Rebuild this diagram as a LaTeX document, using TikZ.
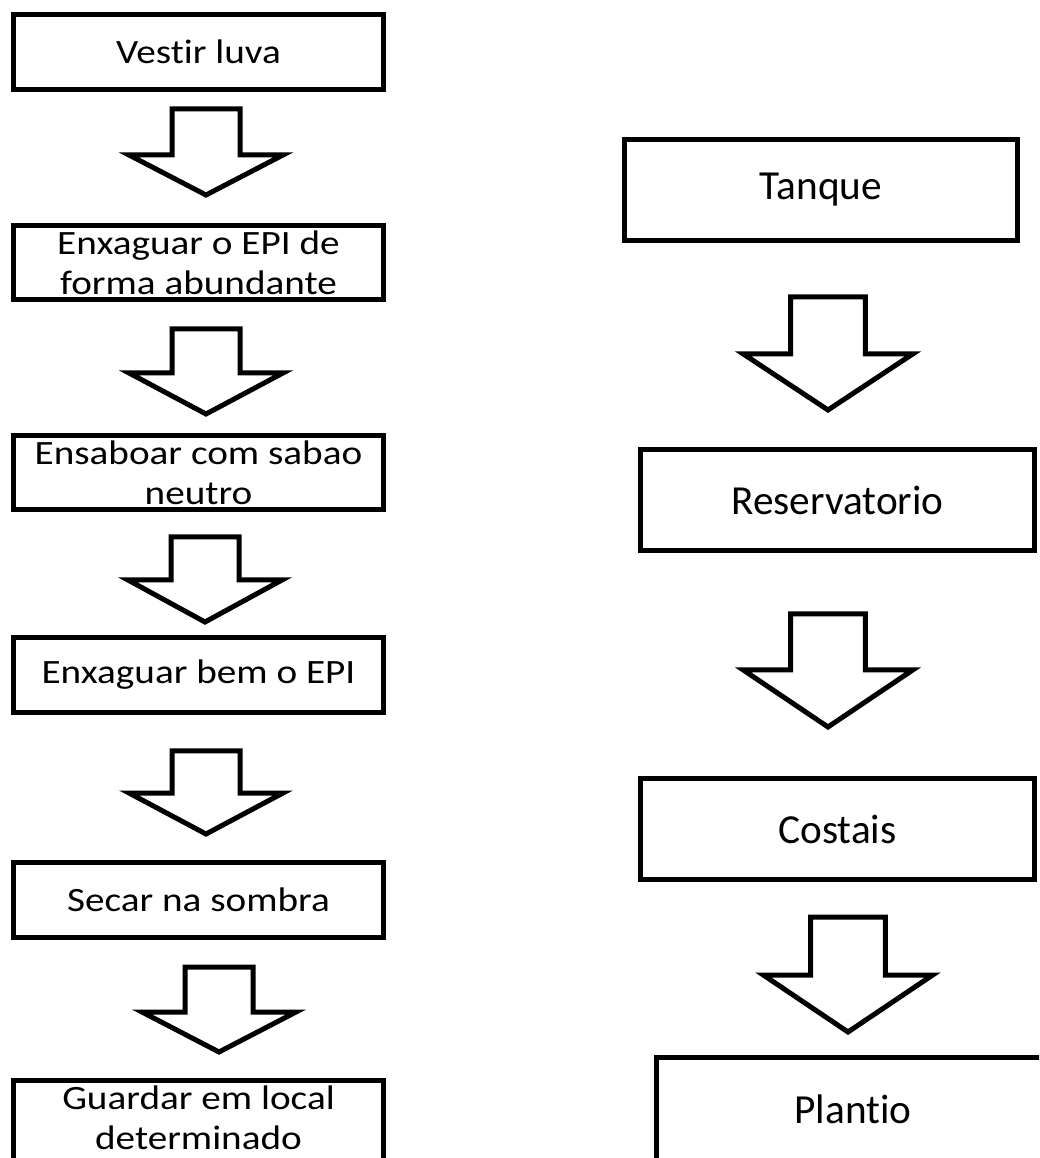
\documentclass[tikz,border=0pt]{standalone}
\usepackage{fontspec}
\setmainfont[Ligatures=NoCommon]{Carlito}
\newfontfamily\widefont[FakeStretch=1.15,Ligatures=NoCommon]{Carlito}
\usetikzlibrary{calc}

\begin{document}
\begin{tikzpicture}[x=0.02cm,y=-0.02cm,line join=miter]
 \tikzstyle{task node}=[rectangle,draw,line width=0.1cm,minimum width=7.4cm,minimum height=1.5cm,inner sep=0,align=center,font=\widefont\fontsize{19.4}{22.8}\selectfont]
 \tikzstyle{place node}=[rectangle,draw,line width=0.1cm,minimum width=7.88cm,minimum height=2.02cm,inner sep=0,font=\fontsize{23.5}{28}\selectfont]
 \tikzset{
 	arrow line/.style={draw,line width=0.1cm},
 	pics/blockarrow/.style 2 args={code={
 	  \draw[arrow line] (-34,0) -- (-34,#1) -- (-77,#1) -- (0,{#1+#2}) -- (77,#1) -- (34,#1) -- (34,0) -- cycle;}}
 }

 \useasboundingbox (0,0) rectangle (1039,1158);
 \clip (0,0) rectangle (1039,1158);

       % left column
       \node[task node] (1) at (198.5,52) {Vestir luva};
       \node[task node] (2) at (198.5,262.5) {Enxaguar o EPI de\\forma abundante};
       \node[task node] (3) at (198.5,472.5) {Ensaboar com sabao\\neutro};
       \node[task node] (4) at (198.5,675) {Enxaguar bem o EPI};
       \node[task node] (5) at (198.5,900) {Secar na sombra};
       \node[task node,minimum height=2.2cm,text depth=0.7cm] (6) at (198.5,1135.5) {Guardar em local\\determinado};

       % right column
       \node[place node] (t) at (821,190) {Tanque};
       \node[place node] (r) at (837.5,500) {Reservatorio};
       \node[place node] (c) at (837.5,829) {Costais};
       \node[place node,minimum height=2.08cm] (p) at (853,1109.5) {Plantio};

     \pic at ($(1.south)+(7.5,17)$) {blockarrow={46}{40}};
     \pic at ($(2.south)+(7.5,26.5)$) {blockarrow={44}{41}};
     \pic at ($(3.south)+(6.5,24.5)$) {blockarrow={43}{42}};
     \pic at ($(4.south)+(7.5,36)$) {blockarrow={42}{41}};
     \pic at ($(5.south)+(20.5,27)$) {blockarrow={45}{40}};

     \pic[xscale=1.1] at ($(t.south)+(7,54)$) {blockarrow={57}{56}};
     \pic[xscale=1.1] at ($(r.south)+(-9.5,61)$) {blockarrow={56}{57}};
     \pic[xscale=1.1] at ($(c.south)+(10.5,35)$) {blockarrow={58}{57}};
 \end{tikzpicture}
\end{document}
